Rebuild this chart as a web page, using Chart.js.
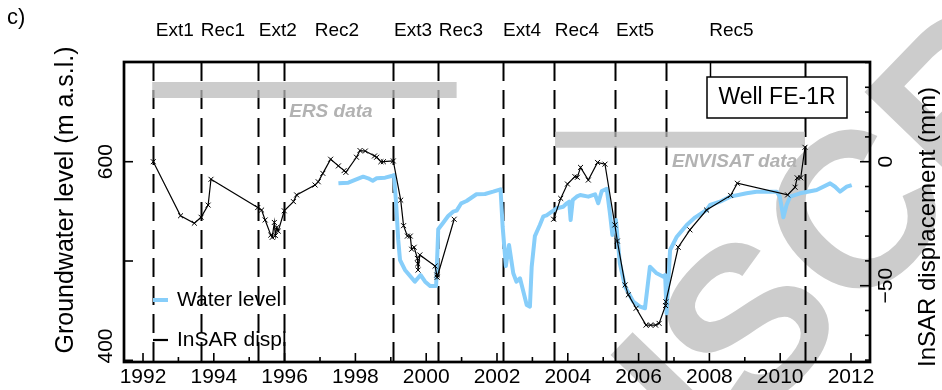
<!DOCTYPE html>
<html>
<head>
<meta charset="utf-8">
<title>Well FE-1R</title>
<script src="https://cdn.jsdelivr.net/npm/chart.js@4.4.1/dist/chart.umd.min.js"></script>
<style>
  html, body { margin: 0; padding: 0; background: #fff; }
  #wrap { width: 942px; height: 390px; }
</style>
</head>
<body>
<div id="wrap"><canvas id="wellChart" width="942" height="390"></canvas></div>
<script>
// ---------------- Series ----------------
const waterYears = [
  1997.52, 1997.80, 1997.99, 1998.22, 1998.36, 1998.49, 1998.60, 1998.84, 1999.02, 1999.09,
  1999.15, 1999.21, 1999.26, 1999.40, 1999.68, 1999.84, 1999.97, 2000.11, 2000.28, 2000.34,
  2000.48, 2000.62, 2000.76, 2000.86, 2000.99, 2001.14, 2001.42, 2001.66, 2001.89, 2002.10,
  2002.16, 2002.25, 2002.34, 2002.46, 2002.55, 2002.65, 2002.84, 2002.93, 2002.98, 2003.07,
  2003.21, 2003.31, 2003.40, 2003.59, 2003.69, 2003.87, 2003.97, 2004.04, 2004.08, 2004.14,
  2004.25, 2004.35, 2004.58, 2004.77, 2004.86, 2004.96, 2005.10, 2005.19, 2005.26, 2005.36,
  2005.47, 2005.62, 2005.85, 2006.04, 2006.18, 2006.32, 2006.51, 2006.70, 2006.75, 2006.79,
  2006.89, 2007.08, 2007.36, 2007.60, 2007.92, 2008.02, 2008.30, 2008.59, 2009.05, 2009.33,
  2009.90, 2009.99, 2010.09, 2010.18, 2010.28, 2010.56, 2011.03, 2011.41, 2011.55, 2011.69,
  2011.88, 2012.02
];
const waterLevels = [
  578.2, 578.9, 581.6, 584.9, 583.3, 580.9, 583.3, 583.9, 585.6, 586.6,
  558.1, 521.2, 501.0, 491.0, 479.2, 485.9, 479.2, 474.8, 474.8, 532.0,
  538.6, 545.3, 549.7, 550.7, 558.1, 560.4, 567.2, 567.5, 569.8, 572.2,
  534.5, 495.0, 516.1, 487.6, 479.2, 482.6, 455.7, 454.0, 494.3, 525.0,
  536.3, 545.0, 546.0, 550.7, 553.1, 554.7, 558.1, 559.7, 541.3, 561.4,
  564.8, 566.5, 564.8, 567.2, 558.1, 570.5, 572.7, 548.0, 526.2, 541.3,
  497.7, 474.1, 459.0, 454.0, 452.4, 494.3, 487.6, 484.2, 485.9, 447.3,
  511.1, 524.5, 536.3, 544.0, 551.4, 556.4, 559.7, 564.8, 568.2, 569.8,
  569.8, 564.8, 544.0, 556.4, 564.8, 568.2, 571.5, 578.2, 574.8, 569.8,
  574.8, 576.5
];

// ERS acquisitions, a null break, then ENVISAT acquisitions
const insarYears = [
  1992.29, 1993.06, 1993.45, 1993.64, 1993.84, 1993.92, 1995.24, 1995.35, 1995.45, 1995.61,
  1995.65, 1995.71, 1995.74, 1995.78, 1995.82, 1995.99, 1996.25, 1996.34, 1996.86, 1996.95,
  1997.08, 1997.30, 1997.52, 1997.68, 1997.73, 1998.03, 1998.13, 1998.28, 1998.54, 1998.60,
  1998.72, 1998.79, 1999.07, 1999.28, 1999.36, 1999.47, 1999.55, 1999.59, 1999.66, 1999.75,
  1999.76, 1999.77, 1999.82, 2000.25, 2000.30, 2000.31, 2000.79,
  2002.00,
  2003.60, 2003.80, 2003.99, 2004.20, 2004.27, 2004.36, 2004.58, 2004.84, 2005.05, 2005.33,
  2005.40, 2005.62, 2005.71, 2005.93, 2006.21, 2006.34, 2006.48, 2006.58, 2006.76, 2006.77,
  2007.12, 2007.45, 2007.92, 2008.60, 2008.79, 2010.21, 2010.42, 2010.48, 2010.58, 2010.70
];
const insarDispl = [
  0.0, -21.8, -24.8, -22.4, -17.5, -7.1, -18.5, -19.5, -23.5, -29.6,
  -30.5, -24.5, -29.8, -26.5, -28.0, -19.8, -16.1, -13.4, -9.4, -8.1,
  -4.7, 1.0, -1.7, -3.6, -4.3, 1.8, 4.5, 4.3, 2.3, 1.8,
  0.0, 0.0, 0.3, -15.5, -25.8, -30.0, -30.0, -35.3, -34.5, -39.0,
  -41.2, -43.7, -37.6, -42.1, -45.7, -46.6, -23.2,
  null,
  -23.2, -14.8, -9.0, -6.0, -6.3, -2.3, -7.4, -0.3, -1.0, -25.5,
  -32.0, -49.7, -53.7, -59.1, -65.9, -65.9, -65.9, -65.2, -58.0, -56.5,
  -34.5, -27.5, -19.5, -13.6, -8.7, -13.4, -10.3, -6.5, -6.5, 5.8
];

// ---------------- Phases and annotations ----------------
const phaseBounds = [1992.29, 1993.63, 1995.24, 1995.99, 1999.07, 2000.32, 2002.16, 2003.61, 2005.33, 2006.77, 2010.70];
const phaseNames = ['Ext1', 'Rec1', 'Ext2', 'Rec2', 'Ext3', 'Rec3', 'Ext4', 'Rec4', 'Ext5', 'Rec5'];
const phaseLabelYears = [1992.90, 1994.26, 1995.81, 1997.48, 1999.63, 2000.98, 2002.71, 2004.26, 2005.90, 2008.62];

const ersSpan = [1992.26, 2000.86];
const envisatSpan = [2003.64, 2010.70];
const ersBandLevel = 672.2;
const envisatBandLevel = 622.2;

// ---------------- Axes ----------------
const yearTicks = [1992, 1994, 1996, 1998, 2000, 2002, 2004, 2006, 2008, 2010, 2012];
const levelTicks = [400, 500, 600];
const levelLabels = [400, 600];
const displTicks = [40, 30, 20, 10, 0, -10, -20, -30, -40, -50, -60, -70, -80];
const displLabels = [0, -50];

const FONT = "'Liberation Sans', Arial, Helvetica, sans-serif";
const BLUE = 'rgb(135, 206, 250)';
const BAND = 'rgba(185, 185, 185, 0.73)';

function toPoints(xs, ys) {
    return xs.map((x, i) => ({ x: x, y: ys[i] }));
}

function rotatedText(ctx, text, x, y) {
    ctx.save();
    ctx.translate(x, y);
    ctx.rotate(-Math.PI / 2);
    ctx.textAlign = 'center';
    ctx.textBaseline = 'middle';
    ctx.fillText(text, 0, 0);
    ctx.restore();
}

// ---------------- Custom drawing ----------------
const wellDecor = {
    id: 'wellDecor',

    beforeDraw(chart) {
        // faint manuscript stamp behind everything
        const ctx = chart.ctx;
        ctx.save();
        ctx.fillStyle = 'rgb(204, 204, 204)';
        ctx.font = 'bold 220px ' + FONT;
        ctx.textBaseline = 'alphabetic';
        ctx.textAlign = 'left';
        const lead = ctx.measureText('ACCEPTED MANU').width;
        const sw = ctx.measureText('S').width;
        ctx.translate(745, 320);
        ctx.rotate(-46 * Math.PI / 180);
        ctx.fillText('ACCEPTED MANUSCRIPT', -(lead + sw / 2), 79);
        ctx.restore();
    },

    beforeDatasetsDraw(chart) {
        const { ctx, chartArea: a, scales: { x } } = chart;
        ctx.save();
        ctx.strokeStyle = '#000';
        ctx.lineWidth = 2;
        ctx.setLineDash([19, 9]);
        phaseBounds.forEach(yr => {
            const px = Math.round(x.getPixelForValue(yr)) + 0.5;
            ctx.beginPath();
            ctx.moveTo(px, a.top);
            ctx.lineTo(px, a.bottom);
            ctx.stroke();
        });
        ctx.restore();
    },

    afterDatasetsDraw(chart) {
        const { ctx, chartArea: a, scales: { x, y, y2 } } = chart;
        ctx.save();

        // satellite band captions
        ctx.fillStyle = 'rgb(178, 178, 178)';
        ctx.font = 'italic bold 19px ' + FONT;
        ctx.textBaseline = 'middle';
        ctx.textAlign = 'left';
        ctx.fillText('ERS data', x.getPixelForValue(1996.13), y.getPixelForValue(650.5));
        ctx.textAlign = 'right';
        ctx.fillText('ENVISAT data', x.getPixelForValue(2010.48), y.getPixelForValue(600.0));

        // frame
        ctx.strokeStyle = '#000';
        ctx.lineWidth = 2.7;
        ctx.strokeRect(a.left, a.top, a.right - a.left, a.bottom - a.top);

        // year ticks
        ctx.lineWidth = 1.6;
        for (let yr = 1992; yr <= 2012; yr++) {
            const px = x.getPixelForValue(yr);
            const len = yr % 2 === 0 ? 9 : 5;
            ctx.beginPath();
            ctx.moveTo(px, a.bottom);
            ctx.lineTo(px, a.bottom - len);
            ctx.stroke();
        }
        levelTicks.forEach(v => {
            const py = y.getPixelForValue(v);
            ctx.beginPath();
            ctx.moveTo(a.left, py);
            ctx.lineTo(a.left + 9, py);
            ctx.stroke();
        });
        displTicks.forEach(v => {
            const py = y2.getPixelForValue(v);
            const len = v % 50 === 0 ? 10 : 5;
            ctx.beginPath();
            ctx.moveTo(a.right, py);
            ctx.lineTo(a.right - len, py);
            ctx.stroke();
        });

        // tick labels
        ctx.fillStyle = '#000';
        ctx.font = '21px ' + FONT;
        ctx.textAlign = 'center';
        ctx.textBaseline = 'middle';
        yearTicks.forEach(yr => ctx.fillText(String(yr), x.getPixelForValue(yr), 377));
        levelLabels.forEach(v => {
            const py = Math.min(y.getPixelForValue(v), a.bottom - 16);
            rotatedText(ctx, String(v), 106, py);
        });
        displLabels.forEach(v => {
            rotatedText(ctx, v < 0 ? '\u2212' + Math.abs(v) : String(v), 886, y2.getPixelForValue(v));
        });

        // axis titles
        ctx.font = '25px ' + FONT;
        rotatedText(ctx, 'Groundwater level (m a.s.l.)', 66, 200);
        ctx.font = '24px ' + FONT;
        rotatedText(ctx, 'InSAR displacement (mm)', 928, 227);

        // phase names along the top
        ctx.font = '19px ' + FONT;
        phaseNames.forEach((name, i) => ctx.fillText(name, x.getPixelForValue(phaseLabelYears[i]), 31));

        // panel letter
        ctx.font = '22px ' + FONT;
        ctx.textAlign = 'left';
        ctx.fillText('c)', 7, 18);

        // well name box, hung from the top frame
        ctx.lineWidth = 1.5;
        ctx.beginPath();
        ctx.moveTo(710.5, a.top);
        ctx.lineTo(710.5, 77);
        ctx.stroke();
        ctx.fillStyle = '#fff';
        ctx.fillRect(707, 77, 140, 41);
        ctx.strokeRect(707, 77, 140, 41);
        ctx.fillStyle = '#000';
        ctx.font = '23px ' + FONT;
        ctx.textAlign = 'center';
        ctx.fillText('Well FE-1R', 777, 98);

        // legend
        ctx.font = '21px ' + FONT;
        ctx.textAlign = 'left';
        ctx.lineWidth = 4;
        ctx.strokeStyle = BLUE;
        ctx.beginPath();
        ctx.moveTo(153, 300);
        ctx.lineTo(168, 300);
        ctx.stroke();
        ctx.fillText('Water level', 177, 300);
        ctx.lineWidth = 2.2;
        ctx.strokeStyle = '#000';
        ctx.beginPath();
        ctx.moveTo(153, 340);
        ctx.lineTo(168, 340);
        ctx.stroke();
        ctx.fillText('InSAR displ', 177, 340);

        ctx.restore();
    }
};

// ---------------- Chart ----------------
function initWellChart() {
    const ctx = document.getElementById('wellChart').getContext('2d');

    return new Chart(ctx, {
        type: 'line',
        data: {
            datasets: [
                {
                    label: 'InSAR displ',
                    data: toPoints(insarYears, insarDispl),
                    yAxisID: 'y2',
                    borderColor: '#000',
                    borderWidth: 1.2,
                    pointStyle: 'crossRot',
                    pointRadius: 3.5,
                    pointBorderColor: '#000',
                    pointBorderWidth: 1,
                    spanGaps: false,
                    tension: 0
                },
                {
                    label: 'Water level',
                    data: toPoints(waterYears, waterLevels),
                    yAxisID: 'y',
                    borderColor: BLUE,
                    borderWidth: 4,
                    borderJoinStyle: 'round',
                    pointRadius: 0,
                    tension: 0
                },
                {
                    label: 'ERS',
                    data: toPoints(ersSpan, [ersBandLevel, ersBandLevel]),
                    yAxisID: 'y',
                    borderColor: BAND,
                    borderWidth: 16,
                    borderCapStyle: 'butt',
                    pointRadius: 0
                },
                {
                    label: 'ENVISAT',
                    data: toPoints(envisatSpan, [envisatBandLevel, envisatBandLevel]),
                    yAxisID: 'y',
                    borderColor: BAND,
                    borderWidth: 16,
                    borderCapStyle: 'butt',
                    pointRadius: 0
                }
            ]
        },
        options: {
            responsive: false,
            animation: false,
            devicePixelRatio: 1,
            layout: { padding: { left: 124, right: 72, top: 62, bottom: 28 } },
            scales: {
                x: { type: 'linear', min: 1991.463, max: 2012.537, display: false },
                y: { type: 'linear', position: 'left', min: 398.3, max: 700.4, display: false },
                y2: { type: 'linear', position: 'right', min: -80.77, max: 40.2, display: false }
            },
            plugins: {
                legend: { display: false },
                tooltip: { enabled: false }
            }
        },
        plugins: [wellDecor]
    });
}

initWellChart();
</script>
</body>
</html>
